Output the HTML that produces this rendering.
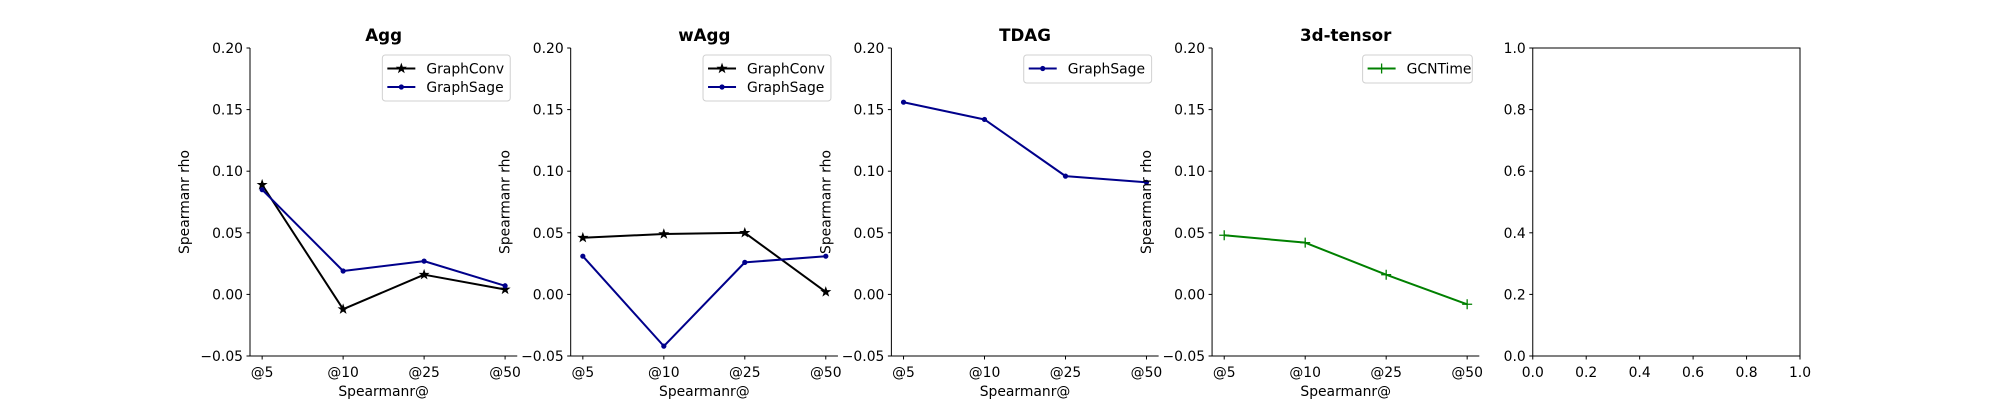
<!DOCTYPE html>
<html><head><meta charset="utf-8"><style>
html,body{margin:0;padding:0;background:#fff;}
svg text{font-family:"DejaVu Sans","Liberation Sans",sans-serif;}
</style></head><body>
<svg id="fig" width="2000" height="400" xmlns="http://www.w3.org/2000/svg"></svg>
<script>
const categories = ["@5","@10","@25","@50"];
const yTicks = [-0.05, 0.00, 0.05, 0.10, 0.15, 0.20];
const yTickLabels = ["\u22120.05","0.00","0.05","0.10","0.15","0.20"];
const emptyTicks = [0.0, 0.2, 0.4, 0.6, 0.8, 1.0];
const emptyTickLabels = ["0.0","0.2","0.4","0.6","0.8","1.0"];
const panelTitles = ["Agg","wAgg","TDAG","3d-tensor"];
const aggGraphConv = [0.089, -0.012, 0.016, 0.004];
const aggGraphSage = [0.085, 0.019, 0.027, 0.007];
const waggGraphConv = [0.046, 0.049, 0.050, 0.002];
const waggGraphSage = [0.031, -0.042, 0.026, 0.031];
const tdagGraphSage = [0.156, 0.142, 0.096, 0.091];
const tensorGCNTime = [0.048, 0.042, 0.016, -0.008];

const panels = [
  {title: panelTitles[0], series: [
    {name:"GraphConv", values: aggGraphConv, color:"#000000", marker:"star"},
    {name:"GraphSage", values: aggGraphSage, color:"#00008b", marker:"dot"}]},
  {title: panelTitles[1], series: [
    {name:"GraphConv", values: waggGraphConv, color:"#000000", marker:"star"},
    {name:"GraphSage", values: waggGraphSage, color:"#00008b", marker:"dot"}]},
  {title: panelTitles[2], series: [
    {name:"GraphSage", values: tdagGraphSage, color:"#00008b", marker:"dot"}]},
  {title: panelTitles[3], series: [
    {name:"GCNTime", values: tensorGCNTime, color:"#008000", marker:"plus"}]}
];

const NS = "http://www.w3.org/2000/svg";
const svg = document.getElementById("fig");
function mk(tag, attrs, parent){
  const e = document.createElementNS(NS, tag);
  for (const k in attrs) e.setAttribute(k, attrs[k]);
  (parent||svg).appendChild(e);
  return e;
}
const AX_W = 267.24, GAP = 53.45, TOP = 48, BOT = 356, LEFT0 = 250;
const FS = 13.9;

function starPts(cx, cy, r){
  let p = [];
  for (let i=0;i<10;i++){
    const a = -Math.PI/2 + i*Math.PI/5;
    const rr = i%2===0 ? r : r*0.4;
    p.push((cx+rr*Math.cos(a)).toFixed(2)+","+(cy+rr*Math.sin(a)).toFixed(2));
  }
  return p.join(" ");
}
function drawMarker(g, type, x, y, color){
  let m;
  if (type==="star"){
    m = mk("polygon",{points:starPts(x,y,4.6),fill:color,stroke:color,"stroke-width":0.8},g);
  } else if (type==="dot"){
    m = mk("circle",{cx:x,cy:y,r:2.6,fill:color},g);
  } else {
    m = mk("path",{d:`M${x-5},${y}H${x+5}M${x},${y-5}V${y+5}`,stroke:color,"stroke-width":1.3,fill:"none"},g);
  }
  
  
}

panels.forEach((p, i) => {
  const L = LEFT0 + i*(AX_W+GAP), R = L + AX_W;
  const g = mk("g",{});
  
  
  const xS = k => L + (k + 0.15) / 3.3 * AX_W;
  const yS = v => BOT - (v + 0.05) / 0.25 * (BOT - TOP);
  const sp = mk("path",{d:`M${L},${TOP}V${BOT}H${R}`,stroke:"#000","stroke-width":1,fill:"none"},g);
  
  
  yTicks.forEach((t, j) => {
    const y = yS(t);
    mk("line",{x1:L-3.5,x2:L,y1:y,y2:y,stroke:"#000","stroke-width":1},g);
    const tx = mk("text",{x:L-7,y:y+5,"text-anchor":"end","font-size":FS,fill:"#000"},g);
    tx.textContent = yTickLabels[j];
    
    
  });
  categories.forEach((c, k) => {
    const x = xS(k);
    mk("line",{x1:x,x2:x,y1:BOT,y2:BOT+3.5,stroke:"#000","stroke-width":1},g);
    const tx = mk("text",{x:x,y:BOT+21,"text-anchor":"middle","font-size":FS,fill:"#000"},g);
    tx.textContent = c;
    
    
  });
  const xl = mk("text",{x:(L+R)/2,y:396,"text-anchor":"middle","font-size":FS,fill:"#000"},g);
  xl.textContent = "Spearmanr@";
  
  
  const yl = mk("text",{x:0,y:0,"text-anchor":"middle","font-size":FS,fill:"#000",transform:`translate(${L-61},${(TOP+BOT)/2}) rotate(-90)`},g);
  yl.textContent = "Spearmanr rho";
  
  
  const ti = mk("text",{x:(L+R)/2,y:41,"text-anchor":"middle","font-size":16.7,"font-weight":"bold",fill:"#000"},g);
  ti.textContent = p.title;
  
  
  p.series.forEach(s => {
    const d = s.values.map((v,k)=>(k?"L":"M")+xS(k).toFixed(2)+","+yS(v).toFixed(2)).join("");
    const ln = mk("path",{d:d,stroke:s.color,"stroke-width":2,fill:"none","stroke-linejoin":"round"},g);
    
    
    s.values.forEach((v,k)=>drawMarker(g, s.marker, xS(k), yS(v), s.color));
  });
  const maxLen = Math.max(...p.series.map(s=>s.name.length));
  const lw = 46 + maxLen*9.1, lh = 10 + p.series.length*18;
  const lx = R - 7 - lw, ly = 55;
  const lg = mk("g",{},g);
  
  
  mk("rect",{x:lx,y:ly,width:lw,height:lh,rx:3,fill:"#fff","fill-opacity":0.8,stroke:"#d0d0d0","stroke-width":1},lg);
  p.series.forEach((s, j) => {
    const y = ly + 13.5 + j*18.5;
    const e = mk("g",{},lg);
    
    
    mk("line",{x1:lx+5,x2:lx+33,y1:y,y2:y,stroke:s.color,"stroke-width":2},e);
    drawMarker(e, s.marker, lx+19, y, s.color);
    const t = mk("text",{x:lx+44,y:y+5,"font-size":FS,fill:"#000"},e);
    t.textContent = s.name;
  });
});

(function(){
  const L = LEFT0 + 4*(AX_W+GAP);
  const g = mk("g",{});
  
  
  mk("rect",{x:L,y:TOP,width:AX_W,height:BOT-TOP,fill:"none",stroke:"#000","stroke-width":1},g);
  emptyTicks.forEach((t,j)=>{
    const y = BOT - t*(BOT-TOP), x = L + t*AX_W;
    mk("line",{x1:L-3.5,x2:L,y1:y,y2:y,stroke:"#000","stroke-width":1},g);
    mk("line",{x1:x,x2:x,y1:BOT,y2:BOT+3.5,stroke:"#000","stroke-width":1},g);
    const a = mk("text",{x:L-7,y:y+5,"text-anchor":"end","font-size":FS,fill:"#000"},g);
    a.textContent = emptyTickLabels[j];
    
    
    const b = mk("text",{x:x,y:BOT+21,"text-anchor":"middle","font-size":FS,fill:"#000"},g);
    b.textContent = emptyTickLabels[j];
    
    
  });
})();
</script>
</body></html>
